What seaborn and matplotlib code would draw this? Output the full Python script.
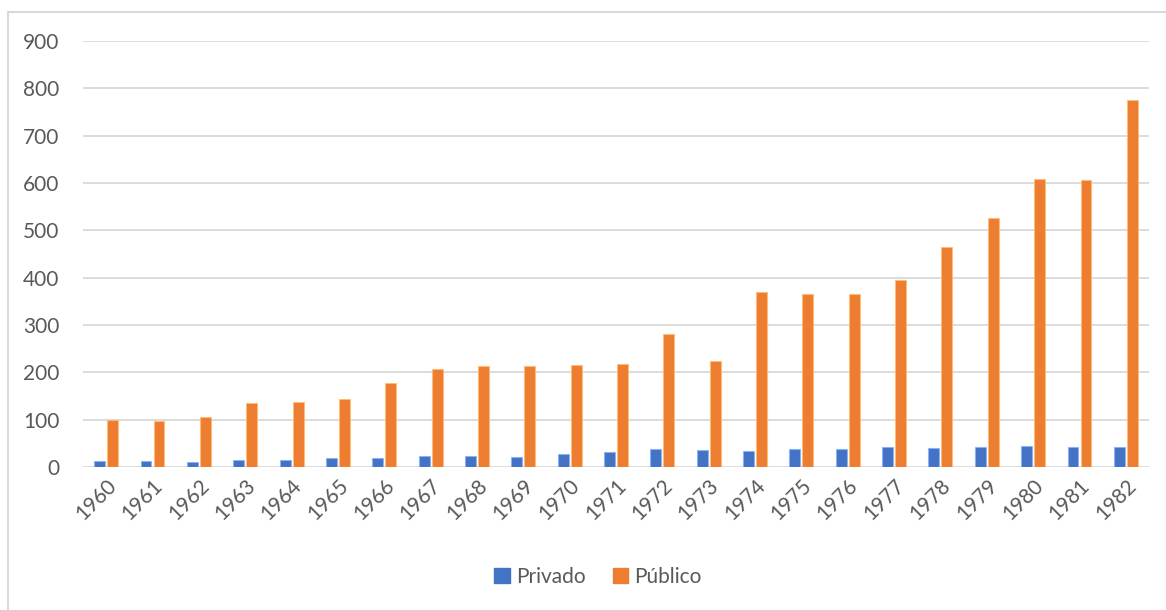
import matplotlib
matplotlib.use("Agg")
import matplotlib.pyplot as plt
from matplotlib.lines import Line2D
import seaborn as sns
import pandas as pd

years = [str(y) for y in range(1960, 1983)]
privado = [13, 13, 11, 15, 15, 20, 20, 23, 23, 22, 27, 32, 38, 35, 34, 38, 39,
           42, 40, 43, 44, 42, 42]
publico = [99, 98, 105, 135, 137, 144, 178, 208, 214, 213, 215, 218, 281, 224,
           370, 366, 366, 395, 465, 526, 608, 607, 776]
series_names = ["Privado", "Público"]
colors = ["#4472C4", "#ED7D31"]
yticks = list(range(0, 1000, 100))

df = pd.DataFrame({
    "año": years * 2,
    "sector": [series_names[0]] * len(years) + [series_names[1]] * len(years),
    "valor": privado + publico,
})

sns.set_theme(style="white")
plt.rcParams["font.family"] = ["Lato", "DejaVu Sans"]
text_color = "#595959"
grid_color = "#D9D9D9"

fig = plt.figure(figsize=(11.66, 6.10), dpi=100)
ax = fig.add_axes([83 / 1166, 1 - 467 / 610, (1149 - 83) / 1166, (467 - 41) / 610])

sns.barplot(data=df, x="año", y="valor", hue="sector", order=years,
            hue_order=series_names, palette=colors, width=0.56, gap=0.16,
            saturation=1, ax=ax, legend=False, zorder=3)

# thin light outline around each bar
for patch in ax.patches:
    fc = patch.get_facecolor()
    patch.set_edgecolor((min(fc[0] + 0.25, 1), min(fc[1] + 0.25, 1),
                         min(fc[2] + 0.25, 1), 0.8))
    patch.set_linewidth(0.8)

ax.set_ylim(0, 900)
ax.set_xlim(-0.5, len(years) - 0.5)
ax.set_yticks(yticks)
ax.yaxis.grid(True, color=grid_color, linewidth=1.3, zorder=0)
ax.xaxis.grid(False)
for s in ax.spines.values():
    s.set_visible(False)
ax.set_xlabel("")
ax.set_ylabel("")
ax.tick_params(axis="y", length=0, pad=17, labelsize=15, labelcolor=text_color)
ax.tick_params(axis="x", length=0, pad=6, labelsize=15, labelcolor=text_color)
for lbl in ax.get_xticklabels():
    lbl.set_rotation(45)
    lbl.set_ha("right")
    lbl.set_rotation_mode("anchor")

handles = [plt.Rectangle((0, 0), 1, 1, color=c) for c in colors]
fig.legend(handles, series_names, loc="center", ncol=2, frameon=False,
           bbox_to_anchor=(598 / 1166, 1 - 577 / 610), fontsize=15,
           handlelength=0.75, handleheight=0.75, handletextpad=0.3,
           columnspacing=1.3, labelcolor=text_color)

# light chart-area frame along the top and left edges
bx, by = 7.5 / 1166, 1 - 11.5 / 610
fig.add_artist(Line2D([bx, bx, 1.0], [0.0, by, by], color=grid_color,
                      linewidth=1.5, transform=fig.transFigure))

fig.savefig("out.png", dpi=100, facecolor="white")
